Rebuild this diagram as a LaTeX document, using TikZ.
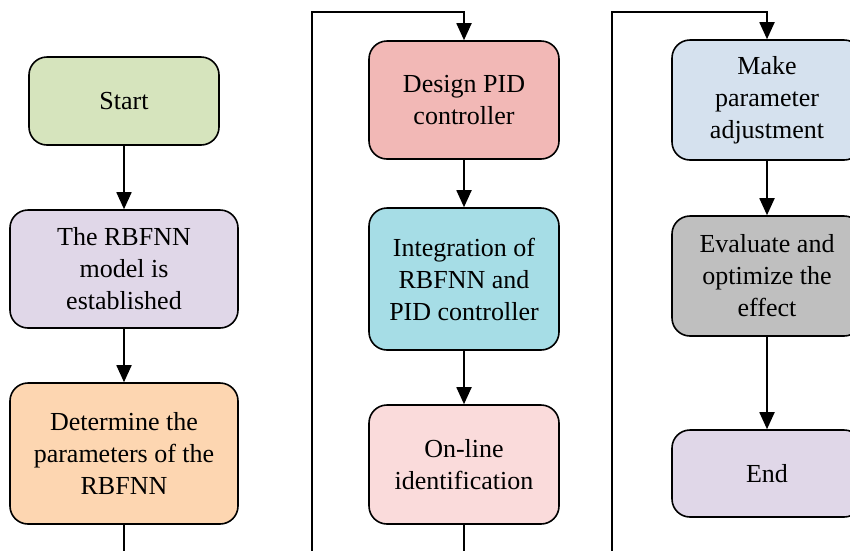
\documentclass[tikz,border=0pt]{standalone}
\usepackage{fontspec}
\setmainfont{Liberation Serif}
\usetikzlibrary{arrows.meta}

\definecolor{cstart}{HTML}{D6E4BD}
\definecolor{cmodel}{HTML}{E0D7E8}
\definecolor{cparam}{HTML}{FDD6B1}
\definecolor{cdesign}{HTML}{F2B8B6}
\definecolor{cinteg}{HTML}{A6DDE6}
\definecolor{conline}{HTML}{FADBDB}
\definecolor{cadjust}{HTML}{D5E1EE}
\definecolor{ceval}{HTML}{BFBFBF}
\definecolor{cend}{HTML}{E0D7E8}

\tikzset{
  flowbox/.style={draw=black, line width=1.6pt, rounded corners=18pt,
    rectangle, align=center, inner sep=0pt,
    font=\fontsize{26}{32}\selectfont},
  flowarrow/.style={draw=black, line width=1.8pt,
    -{Triangle[length=17pt,width=15pt]}},
  flowline/.style={draw=black, line width=1.8pt},
}

\begin{document}
\begin{tikzpicture}[x=1pt,y=-1pt]
\useasboundingbox (0,0) rectangle (850,550);
\clip (0,0) rectangle (850,550);

% first column
\node[flowbox, fill=cstart, minimum width=190pt, minimum height=88pt] (start) at (124,101) {Start};
\node[flowbox, fill=cmodel, minimum width=228pt, minimum height=118pt] (model) at (124,269) {The RBFNN\\model is\\established};
\node[flowbox, fill=cparam, minimum width=228pt, minimum height=141pt] (param) at (124,453.5) {Determine the\\parameters of the\\RBFNN};
\coordinate (out1) at (124,556);

% second column
\coordinate (in2) at (312,556);
\coordinate (top2a) at (312,12);
\coordinate (top2b) at (464,12);
\node[flowbox, fill=cdesign, minimum width=190pt, minimum height=118pt] (design) at (464,100) {Design PID\\controller};
\node[flowbox, fill=cinteg, minimum width=190pt, minimum height=142pt] (integ) at (464,279) {Integration of\\RBFNN and\\PID controller};
\node[flowbox, fill=conline, minimum width=190pt, minimum height=119pt] (online) at (464,464.5) {On-line\\identification};
\coordinate (out2) at (464,556);

% third column
\coordinate (in3) at (612,556);
\coordinate (top3a) at (612,12);
\coordinate (top3b) at (767,12);
\node[flowbox, fill=cadjust, minimum width=190pt, minimum height=120pt] (adjust) at (767,100) {Make\\parameter\\adjustment};
\node[flowbox, fill=ceval, minimum width=190pt, minimum height=120pt] (evaluate) at (767,276) {Evaluate and\\optimize the\\effect};
\node[flowbox, fill=cend, minimum width=190pt, minimum height=87pt] (endn) at (767,473.5) {End};

% connectors
\draw[flowarrow] (start) -- (model);
\draw[flowarrow] (model) -- (param);
\draw[flowline] (param.south) -- (out1);

\draw[flowarrow] (in2) -- (top2a) -- (top2b) -- (design.north);
\draw[flowarrow] (design) -- (integ);
\draw[flowarrow] (integ) -- (online);
\draw[flowline] (online.south) -- (out2);

\draw[flowarrow] (in3) -- (top3a) -- (top3b) -- (adjust.north);
\draw[flowarrow] (adjust) -- (evaluate);
\draw[flowarrow] (evaluate) -- (endn);
\end{tikzpicture}
\end{document}
